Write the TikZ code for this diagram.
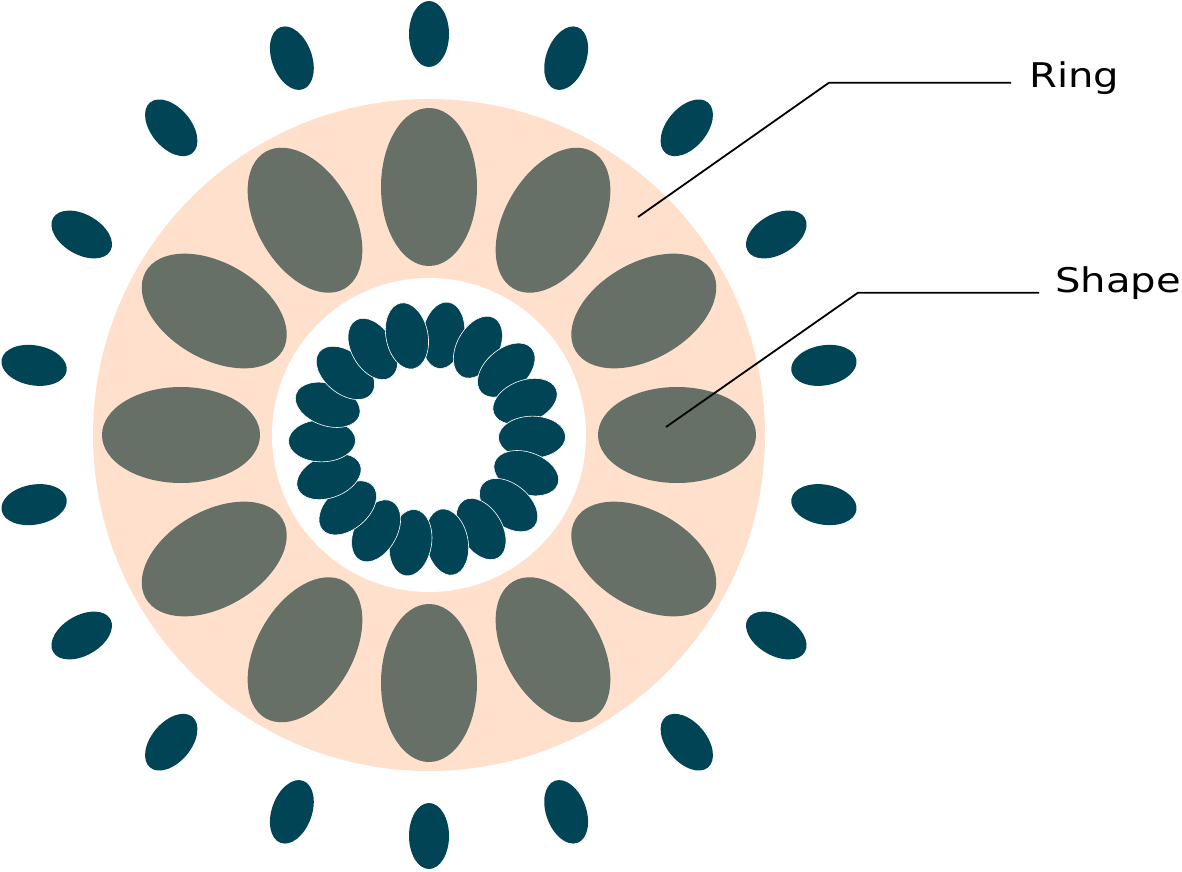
\documentclass[tikz,border=0pt]{standalone}
\usepackage{fontspec}
\usepackage{graphicx}
\setmainfont{DejaVu Sans}
\definecolor{peach}{HTML}{FFE0CC}
\definecolor{slate}{HTML}{667066}
\definecolor{deepteal}{HTML}{004455}
\begin{document}
\begin{tikzpicture}[x=1pt,y=1pt,
  ringdisk/.style={fill=peach},
  holedisk/.style={fill=white},
  outerblob/.style={fill=deepteal},
  grayblob/.style={fill=slate},
  innerblob/.style={fill=deepteal, draw=white, line width=0.6pt},
  leader/.style={draw=black, line width=1.8pt, line join=miter},
  lbl/.style={inner sep=0pt, anchor=base west, font=\fontsize{34}{40}\selectfont}]
\useasboundingbox (0,0) rectangle (1182,871);
\begin{scope}[shift={(429,436)}]
  \fill[ringdisk] (0,0) circle (336);
  \fill[holedisk] (0,0) circle (157);
  \foreach \k in {0,...,11}{
    \pgfmathsetmacro\a{90+30*\k}
    \fill[grayblob, shift={(\a:248)}, rotate=\a] (0,0) ellipse [x radius=79, y radius=48];
  }
  \foreach \k in {0,...,17}{
    \pgfmathsetmacro\a{90+20*\k}
    \fill[outerblob, shift={(\a:401)}, rotate=\a] (0,0) ellipse [x radius=33, y radius=20];
  }
  \begin{scope}[shift={(-2,-4)}]
    \foreach \k in {0,...,17}{
      \pgfmathsetmacro\a{81-20*\k}
      \path[innerblob, shift={(\a:105)}, rotate=\a] (0,0) ellipse [x radius=33.5, y radius=21];
    }
  \end{scope}
\end{scope}
% labels
\node[lbl] (ringlabel) at (1029,783) {\scalebox{1.18}[1]{Ring}};
\node[lbl] (shapelabel) at (1055,578.3) {\scalebox{1.18}[1]{Shape}};
\coordinate (ringtip) at (638,654);
\coordinate (ringknee) at (829,788.3);
\coordinate (ringend) at (1011,788.3);
\coordinate (shapetip) at (666,444);
\coordinate (shapeknee) at (858,578.3);
\coordinate (shapeend) at (1039,578.3);
\draw[leader] (ringtip) -- (ringknee) -- (ringend);
\draw[leader] (shapetip) -- (shapeknee) -- (shapeend);
\end{tikzpicture}
\end{document}
